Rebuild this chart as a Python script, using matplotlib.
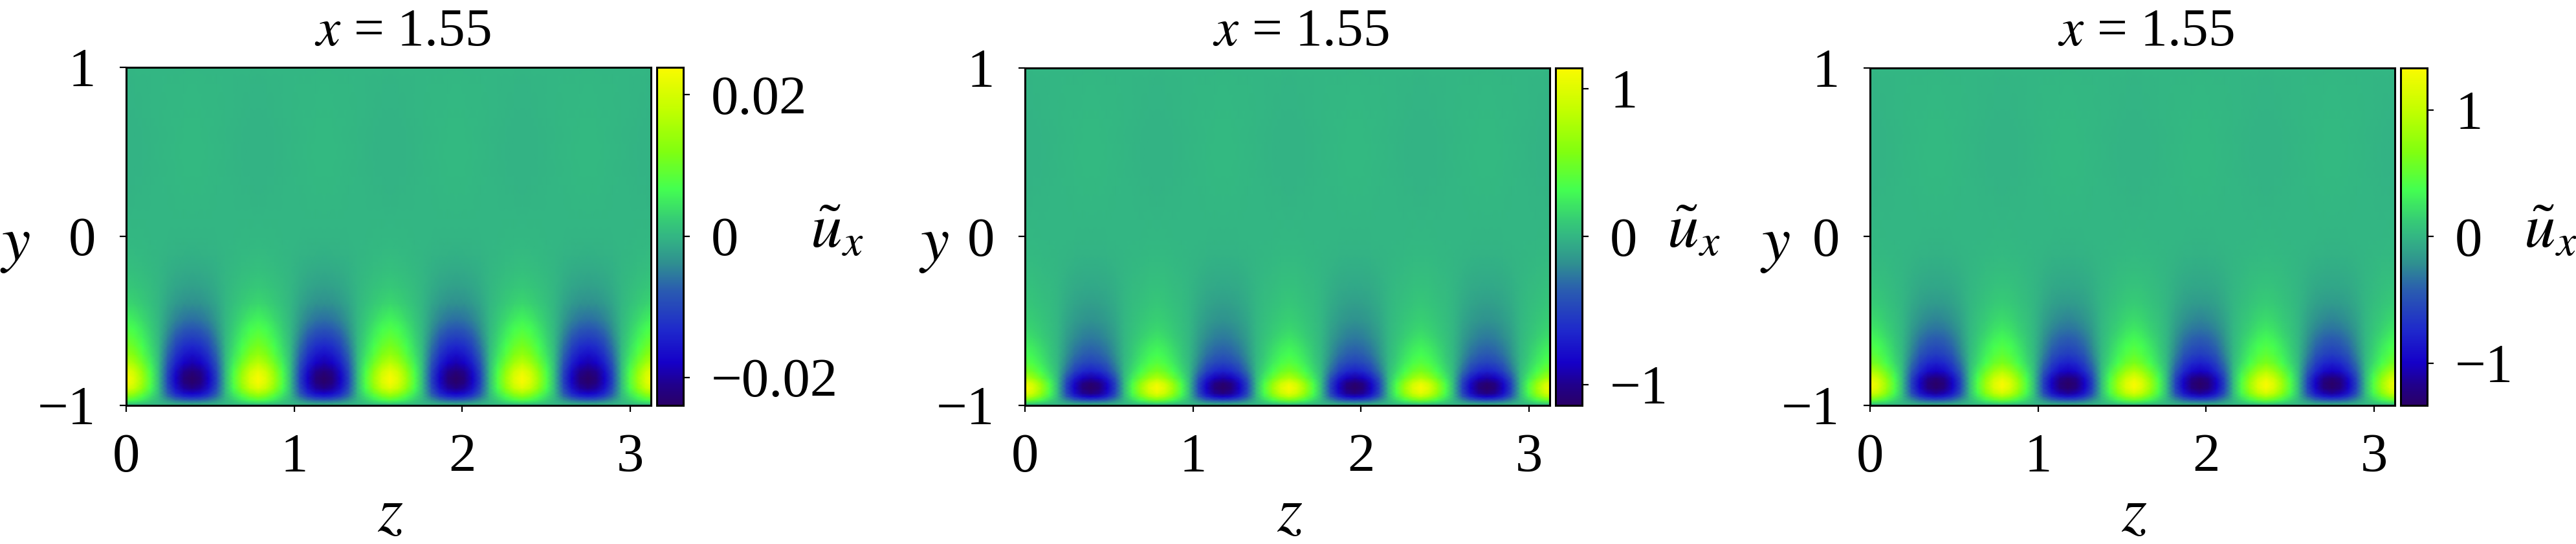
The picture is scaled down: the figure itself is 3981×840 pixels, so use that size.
# three slices of the streamwise perturbation at x = 1.55

import numpy as np
import matplotlib
matplotlib.use('Agg')
import matplotlib.pyplot as plt
from matplotlib.colors import LinearSegmentedColormap

plt.rcParams['font.family'] = ['Liberation Serif', 'DejaVu Serif']
plt.rcParams['mathtext.fontset'] = 'stix'

FIG_W, FIG_H = 3981, 840

# wall normal levels (normalised by the colorbar limit)
y_levels = [-1, -.99, -.97, -.95, -.93, -.9, -.87, -.84, -.8, -.75, -.7, -.65, -.6,
            -.55, -.5, -.4, -.3, -.2, -.1, 0, .2, .4, .6, .8, 1]

# profile through a yellow lobe
pos_a = [0, .12, .34, .5, .66, .88, .98, 1, .92, .72, .57, .47, .39, .32, .25, .14, .08, .045, .02, .008, -.008, -.014, -.014, -.01, -.004]
pos_b = [0, .14, .46, .72, .9, 1, .92, .68, .48, .35, .28, .23, .18, .14, .115, .075, .05, .03, .015, .006, -.008, -.014, -.014, -.01, -.004]
pos_c = [0, .14, .42, .64, .83, .98, 1, .9, .7, .48, .38, .32, .26, .2, .16, .1, .06, .035, .016, .006, -.008, -.014, -.014, -.01, -.004]

# profile through a blue lobe
neg_a = [0, -.1, -.33, -.58, -.75, -.9, -.98, -1, -.94, -.8, -.68, -.57, -.46, -.36, -.27, -.16, -.09, -.05, -.02, -.006, .008, .014, .014, .01, .004]
neg_b = [0, -.12, -.42, -.74, -.92, -1, -.97, -.82, -.6, -.44, -.34, -.28, -.23, -.19, -.15, -.1, -.06, -.035, -.015, -.005, .008, .014, .014, .01, .004]
neg_c = [0, -.12, -.37, -.65, -.85, -.98, -1, -.94, -.76, -.6, -.47, -.39, -.32, -.25, -.2, -.12, -.07, -.04, -.016, -.005, .008, .014, .014, .01, .004]

# lobe shape across z, centre out to the zero crossing
lobe_pos = [1, .86, .6, .32, 0]
lobe_neg = [1, .93, .74, .42, 0]
lobe_centres = [0, 0.3927, 0.7854, 1.1781, 1.5708, 1.9635, 2.3562, 2.7489, 3.1416]
lobe_signs = [1, -1, 1, -1, 1, -1, 1, -1, 1]
lobe_step = 0.0491

z_ticks = [0, 1, 2, 3]
z_labels = ['0', '1', '2', '3']
y_ticks = [-1, 0, 1]
y_labels = ['\u22121', '0', '1']

limits = [0.0239, 1.14, 1.33]
cbar_ticks = [[-0.02, 0, 0.02], [-1, 0, 1], [-1, 0, 1]]
cbar_labels = [['\u22120.02', '0', '0.02'], ['\u22121', '0', '1'], ['\u22121', '0', '1']]

# left, right of plot, left, right of colorbar (pixels)
panels = [(195, 1006, 1015, 1056), (1584, 2395, 2404, 2445), (2890, 3701, 3710, 3751)]
profiles = [(pos_a, neg_a), (pos_b, neg_b), (pos_c, neg_c)]
title_x = [622, 2010, 3316]
ylabel_x = [24, 1444, 2743]
zlabel_x = [603, 1993, 3298]
cbarlabel_x = [1293, 2617, 3941]

cmap = LinearSegmentedColormap.from_list('ux', [
    (0.0, '#2a0068'), (0.06, '#20008c'), (0.125, '#1500c8'), (0.22, '#1e28cc'),
    (0.34, '#2a5cb0'), (0.42, '#2f9090'), (0.5, '#33b683'), (0.55, '#36cc75'),
    (0.64, '#44ff50'), (0.75, '#80ff10'), (0.87, '#c0ff00'), (1.0, '#fafa00')], N=512)


def z_weights():
    # build columns from the lobe tables, one column per lobe_step
    zs, pos, neg = [], [], []
    for centre, sign in zip(lobe_centres, lobe_signs):
        shape = lobe_pos if sign > 0 else lobe_neg
        for k in range(-3, 4):
            zs.append(centre + k * lobe_step)
            w = shape[abs(k)]
            pos.append(w if sign > 0 else 0)
            neg.append(w if sign < 0 else 0)
        zs.append(centre + 4 * lobe_step)
        pos.append(0)
        neg.append(0)
    return np.array(zs), np.array(pos), np.array(neg)


def add_axes_px(fig, left, right, top, bottom):
    return fig.add_axes([left / FIG_W, 1 - bottom / FIG_H, (right - left) / FIG_W, (bottom - top) / FIG_H])


def fig_text(fig, x, y, s, size, ha='center'):
    fig.text(x / FIG_W, 1 - y / FIG_H, s, fontsize=size, ha=ha, va='baseline')


fig = plt.figure(figsize=(FIG_W / 100, FIG_H / 100), dpi=100)
zs, col_pos, col_neg = z_weights()

for i in range(3):
    left, right, cleft, cright = panels[i]
    top = 103.5 if i == 0 else 105
    bottom = 625.5
    pos, neg = profiles[i]
    field = (np.outer(pos, col_pos) + np.outer(neg, col_neg)) * limits[i]

    ax = add_axes_px(fig, left, right, top, bottom)
    mesh = ax.pcolormesh(zs, y_levels, field, cmap=cmap, vmin=-limits[i], vmax=limits[i],
                         shading='gouraud', rasterized=True)
    ax.set_xlim(0, 3.123)
    ax.set_ylim(-1, 1)
    ax.set_xticks(z_ticks)
    ax.set_xticklabels(z_labels)
    ax.set_yticks(y_ticks)
    ax.set_yticklabels(y_labels)
    ax.tick_params(axis='x', labelsize=61, length=7, width=1.6, pad=24)
    ax.tick_params(axis='y', labelsize=61, length=7, width=1.6, pad=27)
    for s in ax.spines.values():
        s.set_linewidth(2.2)

    cax = add_axes_px(fig, cleft, cright, top, bottom)
    cb = fig.colorbar(mesh, cax=cax)
    cb.set_ticks(cbar_ticks[i])
    cb.set_ticklabels(cbar_labels[i])
    cax.tick_params(labelsize=61, length=7, width=1.6, pad=24)
    cb.outline.set_linewidth(2.2)

    fig_text(fig, title_x[i], 70, '$x$ = 1.55', 60)
    fig_text(fig, ylabel_x[i], 402, '$y$', 72)
    fig_text(fig, zlabel_x[i], 820, '$z$', 72)
    fig_text(fig, cbarlabel_x[i], 382, r'$\tilde{u}_x$', 70)

fig.savefig('out.png', dpi=100)
